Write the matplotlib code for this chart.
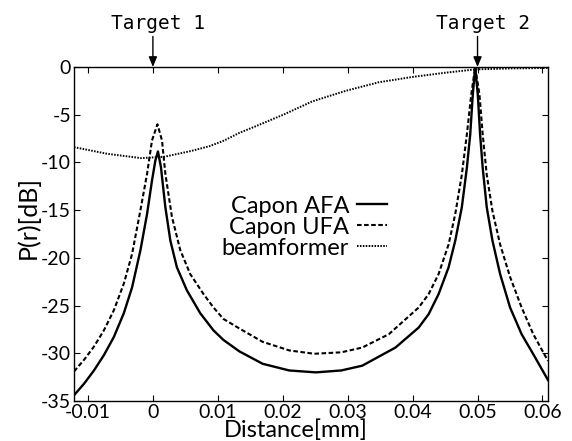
import matplotlib.pyplot as plt

# Capon AFA (solid)
afa_x = [-0.01215, -0.01062, -0.00908, -0.00755, -0.00602, -0.00448, -0.00321,
         -0.00192, -0.0009, -0.00014, 0.00038, 0.00078, 0.00124, 0.00192, 0.00269,
         0.0037, 0.00523, 0.00729, 0.00933, 0.01086, 0.01332, 0.0169, 0.0210,
         0.02509, 0.0290, 0.03224, 0.03736, 0.04094, 0.04247, 0.0440, 0.04554,
         0.04657, 0.04758, 0.04835, 0.04887, 0.04927, 0.04964, 0.05004, 0.0504,
         0.0508, 0.05142, 0.0523, 0.05348, 0.05501, 0.05679, 0.05859, 0.06085]
afa_y = [-34.4, -33.2, -31.8, -30.2, -28.3, -25.8, -23.1,
         -19.2, -15.4, -11.9, -9.8, -8.85, -10.5, -14.7, -18.2,
         -21.0, -23.4, -25.8, -27.6, -28.6, -29.8, -31.1, -31.8,
         -32.0, -31.8, -31.3, -29.4, -27.3, -25.9, -23.8, -21.0,
         -18.2, -14.7, -10.6, -7.1, -2.9, 0.0, -2.9, -7.1,
         -10.6, -14.7, -18.2, -21.7, -25.2, -28.0, -30.1, -32.8]

# Capon UFA (dashed)
ufa_x = [-0.01215, -0.01062, -0.00908, -0.00755, -0.00602, -0.00448, -0.00321,
         -0.00192, -0.0009, -0.00014, 0.0007, 0.0014, 0.00192, 0.00293, 0.00422,
         0.00575, 0.0078, 0.00933, 0.01086, 0.01332, 0.0169, 0.0210, 0.02483,
         0.0290, 0.03224, 0.03634, 0.04094, 0.04247, 0.0440, 0.04554, 0.04657,
         0.04758, 0.04835, 0.04903, 0.04964, 0.0503, 0.0508, 0.05142, 0.0523,
         0.05348, 0.05501, 0.05679, 0.05859, 0.06085]
ufa_y = [-31.9, -30.7, -29.3, -27.6, -25.5, -22.7, -19.6,
         -15.0, -11.2, -7.7, -6.0, -7.7, -11.2, -15.7, -19.2,
         -21.7, -23.8, -25.2, -26.4, -27.4, -28.8, -29.7, -30.05,
         -29.9, -29.4, -28.0, -25.2, -23.8, -21.7, -18.6, -15.4,
         -11.3, -7.1, -2.9, 0.0, -2.9, -7.1, -11.3, -15.1,
         -18.6, -22.0, -25.2, -28.0, -30.8]

# beamformer (dotted)
bf_x = [-0.01215, -0.0070, -0.0018, 0.0018, 0.0059, 0.0087, 0.0110, 0.01332,
        0.01588, 0.02025, 0.02457, 0.02969, 0.0348, 0.03991, 0.04504, 0.04964,
        0.0552, 0.06085]
bf_y = [-8.4, -9.1, -9.55, -9.4, -8.8, -8.3, -7.7, -6.9,
        -6.2, -4.95, -3.6, -2.5, -1.6, -1.05, -0.6, -0.25,
        -0.15, -0.1]

xticks = [-0.01, 0, 0.01, 0.02, 0.03, 0.04, 0.05, 0.06]
xticklabels = ["-0.01", "0", "0.01", "0.02", "0.03", "0.04", "0.05", "0.06"]
yticks = [0, -5, -10, -15, -20, -25, -30, -35]
targets = [(0.0, "Target 1"), (0.05, "Target 2")]

plt.rcParams['font.family'] = ['Lato', 'DejaVu Sans']

fig = plt.figure(figsize=(5.72, 4.41), dpi=100)
ax = fig.add_axes([0.1294, 0.0907, 0.8286, 0.7574])

ax.plot(afa_x, afa_y, color='black', lw=1.7, label='Capon AFA')
ax.plot(ufa_x, ufa_y, color='black', lw=1.5, dashes=(2.2, 1.2), label='Capon UFA')
ax.plot(bf_x, bf_y, color='black', lw=1.4, dashes=(0.8, 0.7), label='beamformer')

ax.set_xlim(-0.01215, 0.06085)
ax.set_ylim(-35, 0)
ax.set_xticks(xticks)
ax.set_xticklabels(xticklabels)
ax.set_yticks(yticks)
ax.set_yticklabels([str(t) for t in yticks])
ax.tick_params(direction='in', top=True, right=True, length=4, width=0.8,
               labelsize=14, pad=2)
for s in ax.spines.values():
    s.set_linewidth(1.0)

ax.set_xlabel("Distance[mm]", fontsize=17)
ax.xaxis.set_label_coords(0.468, -0.055)
ax.set_ylabel("P(r)[dB]", fontsize=18)
ax.yaxis.set_label_coords(-0.072, 0.548)

ax.legend(loc='upper right', bbox_to_anchor=(0.66, 0.615), frameon=False,
          markerfirst=False, fontsize=17, borderpad=0, borderaxespad=0,
          labelspacing=0.0, handlelength=1.25, handletextpad=0.35)

for tx, name in targets:
    ax.annotate('', xy=(tx, 0), xycoords='data', xytext=(0, 22),
                textcoords='offset points', annotation_clip=False,
                arrowprops=dict(arrowstyle='-|>,head_length=0.6,head_width=0.25',
                                color='black', lw=1.0, shrinkA=0, shrinkB=0))
    ax.annotate(name, xy=(tx, 0), xycoords='data', xytext=(4, 31),
                textcoords='offset points', ha='center', va='center',
                fontsize=14, family='DejaVu Sans Mono', annotation_clip=False)

fig.savefig("out.png", dpi=100)
